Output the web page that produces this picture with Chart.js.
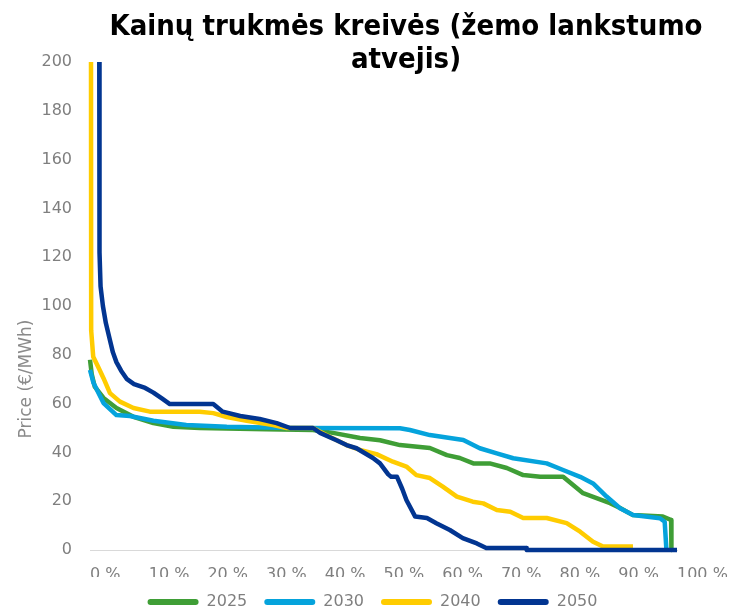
<!DOCTYPE html>
<html>
<head>
<meta charset="utf-8">
<script src="https://cdn.jsdelivr.net/npm/chart.js@4"></script>
<style>
  html, body { margin: 0; padding: 0; background: #ffffff; }
  #wrap { width: 734px; height: 612px; }
</style>
</head>
<body>
<div id="wrap"><canvas id="c" width="734" height="612"></canvas></div>
<script>
// ---- Data ----
const chartTitle = ["Kainų trukmės kreivės (žemo lankstumo", "atvejis)"];
const yAxisTitle = "Price (€/MWh)";
const seriesNames = ["2025", "2030", "2040", "2050"];
const seriesColors = ["#3f9e36", "#05a3dc", "#ffcc00", "#023591"];

// duration (% of hours) and price (€/MWh)
const dur2025   = [0, 0.3, 0.8, 2.3, 4.5, 7.4, 10.8, 14.2, 18.7, 30, 38, 41.4, 46, 49.4, 52.8, 57.9, 60.8, 63, 65.3, 68.1, 71, 73.8, 76.7, 80.6, 82.3, 84, 86.3, 88.6, 90.3, 92.5, 97.6, 99, 99.05];
const price2025 = [78, 72, 67, 62.3, 58.2, 54.6, 52, 50.5, 50, 49.5, 49.2, 48, 45.9, 45, 43, 41.8, 38.9, 37.7, 35.5, 35.5, 33.6, 30.7, 30, 30, 26.6, 23.3, 21.3, 19.2, 17.2, 14.3, 13.7, 12.3, 0];

const dur2030   = [0, 0.6, 2.3, 4.5, 6.8, 10.8, 16.4, 23.3, 34.6, 52.8, 54.5, 57.9, 63.6, 66.4, 69.3, 72.1, 77.8, 80.6, 83.5, 85.7, 88, 90.3, 92.5, 97.1, 97.9, 98.2];
const price2030 = [73.8, 68.4, 60.2, 55.3, 54.9, 53, 51.2, 50.5, 50, 49.9, 49.2, 47.1, 45.1, 41.7, 39.6, 37.6, 35.5, 32.8, 30, 27.3, 21.9, 17.1, 14.3, 13, 11.6, 0];

const dur2040   = [0.15, 0.17, 0.2, 0.55, 1.4, 2.3, 3.4, 5.1, 7.4, 10.2, 18.7, 21, 23.3, 26.7, 31.2, 33.5, 38, 40.3, 43.7, 46, 48.8, 51.6, 53.9, 55.6, 57.9, 60.1, 62.5, 65.2, 67, 69.3, 71.6, 73.8, 77.8, 81.2, 83.5, 85.7, 87.4, 92.5];
const price2040 = [300, 200, 90, 79.2, 75, 70.4, 64.3, 60.8, 58.2, 56.7, 56.7, 56.1, 54.5, 53, 51.2, 50, 50, 47, 43, 41, 39.3, 36.2, 34.2, 30.7, 29.5, 26, 21.9, 19.8, 19.1, 16.4, 15.7, 13.1, 13.1, 11, 7.5, 3.4, 1.4, 1.4];

const dur2050   = [1.5, 1.58, 1.62, 1.8, 2.2, 2.7, 3.3, 3.9, 4.5, 5.3, 6.3, 7.5, 9.4, 10.8, 12.3, 13.6, 21, 22.6, 25.6, 28.9, 31.8, 34.1, 38, 39.2, 42, 43.7, 45.4, 48.2, 49.4, 50.8, 51.3, 52.3, 53.2, 53.9, 55.4, 57.4, 59, 61.3, 63.5, 65.9, 67.5, 74.3, 74.4, 100];
const price2050 = [300, 200, 122, 108, 100, 93, 87, 81, 77, 73.5, 70, 68, 66.4, 64.5, 62, 59.8, 59.8, 56.7, 54.9, 53.7, 52, 50, 50, 48, 45, 43, 41.7, 37.7, 35.5, 31, 30, 30, 25, 20.5, 13.7, 13.1, 11, 8.2, 4.9, 2.7, 0.8, 0.8, 0, 0];

const durations = [dur2025, dur2030, dur2040, dur2050];
const prices = [price2025, price2030, price2040, price2050];

const xTicksStep = 10;   // 0 % ... 100 %
const yTicksStep = 20;   // 0 ... 200

// ---- Chart ----
const tickFont = { family: "'DejaVu Sans', Verdana, sans-serif", size: 16 };
const tickColor = "#7f7f7f";

const datasets = seriesNames.map((name, i) => ({
  label: name,
  data: durations[i].map((d, k) => ({ x: d, y: prices[i][k] })),
  borderColor: seriesColors[i],
  backgroundColor: seriesColors[i],
  borderWidth: 4.5,
  pointRadius: 0,
  pointHoverRadius: 0,
  tension: 0,
  borderJoinStyle: 'round',
  order: seriesNames.length - i,
  clip: { left: 5, top: 0, right: 5, bottom: 5 }
}));

const textPlugin = {
  id: 'customTexts',
  afterLayout(chart) {
    // nudge the legend row to sit where the reference has it
    const lg = chart.legend;
    if (lg) { lg.left -= 11; lg.right -= 11; }
  },
  afterDraw(chart) {
    const ctx = chart.ctx;
    // main title (two lines)
    ctx.save();
    ctx.fillStyle = '#000000';
    ctx.font = "bold 29px 'DejaVu Sans Condensed', 'DejaVu Sans', sans-serif";
    ctx.textBaseline = 'alphabetic';
    ctx.textAlign = 'center';
    const w = ctx.measureText(chartTitle[0]).width;
    const sx = Math.min(1, 593 / w);
    ctx.translate(406, 0);
    ctx.scale(sx, 1);
    ctx.fillText(chartTitle[0], 0, 35);
    ctx.fillText(chartTitle[1], 0, 68);
    ctx.restore();
    // y axis title
    ctx.save();
    ctx.fillStyle = '#8a8a8a';
    ctx.font = "17px 'DejaVu Sans', sans-serif";
    ctx.textAlign = 'center';
    ctx.textBaseline = 'middle';
    ctx.translate(27, 379);
    ctx.rotate(-Math.PI / 2);
    ctx.fillText(yAxisTitle, 0, 0);
    ctx.restore();
  }
};

new Chart(document.getElementById('c'), {
  type: 'line',
  data: { datasets },
  options: {
    responsive: false,
    animation: false,
    events: [],
    layout: { padding: { left: 0, right: 57, top: 62, bottom: 0 } },
    scales: {
      x: {
        type: 'linear',
        min: 0, max: 100,
        grid: { display: false, drawTicks: false },
        border: { display: true, color: '#d9d9d9', width: 1 },
        ticks: {
          stepSize: xTicksStep,
          autoSkip: false,
          maxRotation: 0,
          align: 'start',
          padding: 15,
          color: tickColor,
          font: tickFont,
          callback: v => v + ' %'
        },
        afterFit(scale) { scale.height = 27; scale.paddingLeft = 0; scale.paddingRight = 0; }
      },
      y: {
        min: 0, max: 200,
        grid: { display: false, drawTicks: false },
        border: { display: false },
        ticks: {
          stepSize: yTicksStep,
          padding: 18,
          color: tickColor,
          font: tickFont
        },
        afterFit(scale) { scale.width = 90; }
      }
    },
    plugins: {
      title: { display: false },
      tooltip: { enabled: false },
      legend: {
        display: true,
        position: 'bottom',
        fullSize: false,
        maxHeight: 35,
        labels: {
          boxWidth: 51,
          boxHeight: 6,
          useBorderRadius: true,
          borderRadius: 3,
          padding: 17,
          color: tickColor,
          font: tickFont,
          sort: (a, b) => a.datasetIndex - b.datasetIndex,
          generateLabels(chart) {
            const items = Chart.defaults.plugins.legend.labels.generateLabels(chart);
            items.forEach(it => { it.lineWidth = 0; });
            return items;
          }
        }
      }
    }
  },
  plugins: [textPlugin]
});
</script>
</body>
</html>
